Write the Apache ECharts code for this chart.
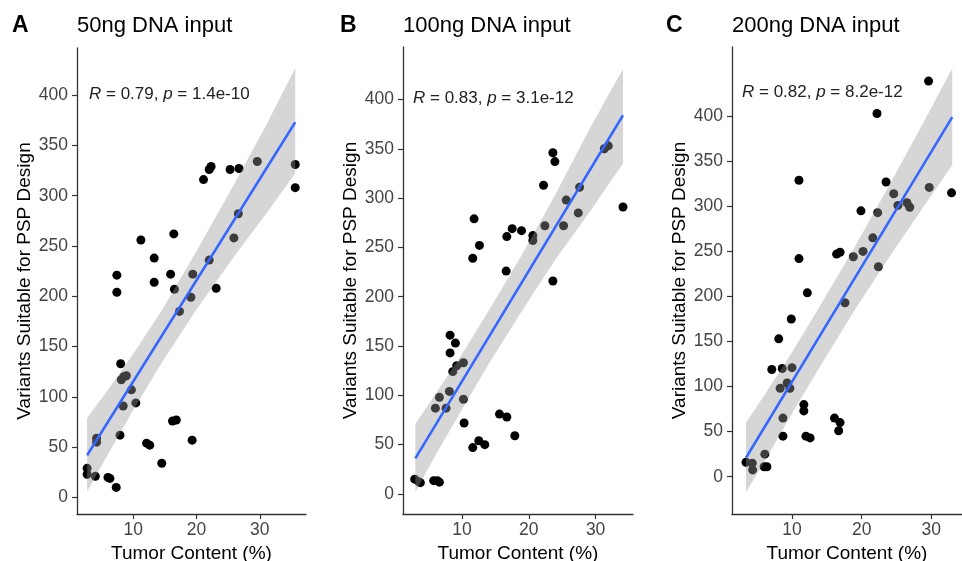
<!DOCTYPE html>
<html>
<head>
<meta charset="utf-8">
<script src="https://cdn.jsdelivr.net/npm/echarts@6/dist/echarts.min.js"></script>
<style>
  html, body { margin: 0; padding: 0; background: #fff; }
  #main { width: 962px; height: 561px; }
</style>
</head>
<body>
<div id="main"></div>
<script>
// A: 50ng DNA input  [tumor content %, variants]
const ptsA = [
  [35.6, 331], [35.6, 308], [29.6, 334], [25.3, 326], [26.7, 327], [21.1, 316],
  [22.0, 326], [22.3, 329], [26.6, 282], [25.9, 258], [22.0, 236], [16.4, 262],
  [11.2, 256], [13.3, 238], [7.4, 221], [19.4, 222], [15.9, 222], [7.4, 204],
  [13.3, 214], [16.5, 207], [23.1, 208], [19.1, 199], [17.3, 185], [8.0, 133],
  [8.1, 117], [8.5, 120], [8.9, 121], [9.7, 107], [10.4, 94], [8.4, 91],
  [7.9, 62], [4.2, 59], [4.2, 55], [2.7, 29], [2.7, 23], [4.0, 21],
  [6.0, 20], [6.3, 19], [7.3, 10], [12.1, 54], [12.6, 52], [14.5, 34],
  [16.2, 76], [16.8, 77], [19.3, 57]
];
const fitA = [[2.7, 42], [35.6, 373]];
// [x, lower, upper] of the grey confidence band
const bandA = [
  [2.7, 6, 79], [6, 43, 107], [10, 87, 143], [14.5, 134, 186],
  [20, 187, 245], [26, 240, 312], [31, 282, 370], [35.6, 322, 427]
];

// B: 100ng DNA input
const ptsB = [
  [31.3, 350], [31.9, 353], [34.1, 291], [23.6, 346], [23.9, 337], [22.2, 313],
  [27.6, 311], [25.6, 298], [27.4, 285], [22.4, 272], [25.2, 272], [20.6, 262],
  [20.6, 257], [17.5, 269], [18.9, 267], [16.7, 261], [11.8, 279], [12.6, 252],
  [11.6, 239], [16.6, 226], [23.6, 216], [8.2, 161], [9.0, 153], [8.2, 143],
  [9.2, 130], [10.2, 133], [8.6, 124], [8.1, 104], [6.6, 98], [6.0, 87],
  [7.6, 87], [10.2, 96], [10.3, 72], [11.6, 47], [12.5, 54], [13.4, 50],
  [15.6, 81], [16.7, 78], [17.9, 59], [2.9, 15], [3.5, 12.5], [3.75, 11.5],
  [5.75, 13.5], [6.3, 13.5], [6.6, 12]
];
const fitB = [[3.0, 36], [34.1, 384]];
const bandB = [
  [3.0, 2, 71], [6, 39, 101], [10, 86, 142], [14, 132, 186],
  [19, 186, 243], [24, 238, 304], [29, 285, 369], [34.1, 335, 431]
];

// C: 200ng DNA input
const ptsC = [
  [29.6, 439], [22.2, 403], [32.9, 315], [29.7, 321], [11.0, 329], [23.5, 327],
  [24.6, 314], [25.2, 301], [26.5, 304], [26.9, 299], [19.9, 295], [22.3, 293],
  [21.6, 265], [20.2, 250], [18.8, 244], [16.4, 247], [16.9, 249], [11.0, 242],
  [22.4, 233], [12.2, 204], [17.6, 193], [9.9, 175], [8.1, 153], [7.1, 119],
  [8.6, 120], [10.0, 121], [8.3, 98], [9.3, 104], [9.7, 98], [8.7, 65],
  [8.7, 45], [11.7, 80], [11.7, 73], [12.0, 45], [12.6, 43], [16.1, 65],
  [16.9, 60], [16.7, 51], [6.1, 25], [3.4, 16], [4.3, 15], [4.35, 7.5],
  [6.0, 11], [6.4, 11]
];
const fitC = [[3.4, 21], [33.0, 399]];
const bandC = [
  [3.4, -17, 60], [6, 16, 90], [10, 70, 138], [14, 122, 189],
  [19, 185, 255], [24, 244, 324], [29, 301, 395], [33.0, 346, 453]
];

const yTicks = [0, 50, 100, 150, 200, 250, 300, 350, 400];
const xTicks = [10, 20, 30];
const letters = ['A', 'B', 'C'];
const titles = ['50ng DNA input', '100ng DNA input', '200ng DNA input'];
const corR = ['0.79', '0.83', '0.82'];
const corP = ['1.4e-10', '3.1e-12', '8.2e-12'];

const pts = [ptsA, ptsB, ptsC];
const fits = [fitA, fitB, fitC];
const bands = [bandA, bandB, bandC];

const FONT = "'Liberation Sans', Arial, sans-serif";
const AXIS_COLOR = '#333';
const LABEL_COLOR = '#444';

// panel geometry (px) and axis ranges
const grids = [
  { left: 77, top: 48, width: 229, height: 466, outerBoundsMode: 'none' },
  { left: 403, top: 47, width: 230, height: 467, outerBoundsMode: 'none' },
  { left: 732, top: 47, width: 230, height: 467, outerBoundsMode: 'none' }
];
const xRange = [[1.1, 37.3], [1.15, 35.6], [1.39, 34.4]];
const yRange = [[-16.4, 446.8], [-20.3, 453.2], [-41.4, 476.8]];
const letterX = [12, 340, 666];
const annot = [[89, 86], [413, 90], [742, 84]];

function bandRender(band) {
  return function (params, api) {
    if (params.dataIndex !== 0) return;
    const top = band.map(d => api.coord([d[0], d[2]]));
    const bot = band.map(d => api.coord([d[0], d[1]])).reverse();
    return {
      type: 'polygon',
      shape: { points: top.concat(bot) },
      style: { fill: 'rgba(153,153,153,0.4)' }
    };
  };
}

const myChart = echarts.init(document.getElementById('main'));

const titleList = [];
const xAxes = [], yAxes = [], series = [];
for (let i = 0; i < 3; i++) {
  titleList.push({
    text: letters[i], left: letterX[i], top: 14, padding: 0,
    textStyle: { fontFamily: FONT, fontSize: 23, fontWeight: 'bold', color: '#000' }
  });
  titleList.push({
    text: titles[i], left: grids[i].left, top: 15, padding: 0,
    textStyle: { fontFamily: FONT, fontSize: 22, fontWeight: 'normal', color: '#000' }
  });
  titleList.push({
    text: '{i|R} = ' + corR[i] + ', {i|p} = ' + corP[i],
    left: annot[i][0], top: annot[i][1], padding: 0,
    textStyle: {
      fontFamily: FONT, fontSize: 17, fontWeight: 'normal', color: '#222',
      rich: { i: { fontFamily: FONT, fontSize: 17, fontStyle: 'italic', color: '#222' } }
    }
  });

  xAxes.push({
    type: 'value', gridIndex: i, min: xRange[i][0], max: xRange[i][1],
    name: 'Tumor Content (%)', nameLocation: 'middle', nameGap: 28,
    nameTextStyle: { fontFamily: FONT, fontSize: 19, color: '#000' },
    axisLine: { show: true, onZero: false, lineStyle: { color: AXIS_COLOR, width: 1.3 } },
    axisTick: { show: true, length: 5, customValues: xTicks, lineStyle: { color: AXIS_COLOR, width: 1.2 } },
    axisLabel: { customValues: xTicks, fontFamily: FONT, fontSize: 17.5, color: LABEL_COLOR, margin: 7 },
    splitLine: { show: false }
  });
  yAxes.push({
    type: 'value', gridIndex: i, min: yRange[i][0], max: yRange[i][1],
    name: 'Variants Suitable for PSP Design', nameLocation: 'middle', nameGap: 43,
    nameTextStyle: { fontFamily: FONT, fontSize: 19, color: '#000' },
    axisLine: { show: true, onZero: false, lineStyle: { color: AXIS_COLOR, width: 1.3 } },
    axisTick: { show: true, length: 5, customValues: yTicks, lineStyle: { color: AXIS_COLOR, width: 1.2 } },
    axisLabel: { customValues: yTicks, fontFamily: FONT, fontSize: 17.5, color: LABEL_COLOR, margin: 9 },
    splitLine: { show: false }
  });

  series.push({
    type: 'scatter', xAxisIndex: i, yAxisIndex: i, data: pts[i],
    symbolSize: 9, itemStyle: { color: '#000', opacity: 1 }, z: 2
  });
  series.push({
    type: 'custom', xAxisIndex: i, yAxisIndex: i, data: bands[i],
    encode: { x: 0, y: [1, 2] }, renderItem: bandRender(bands[i]), z: 3, silent: true
  });
  series.push({
    type: 'line', xAxisIndex: i, yAxisIndex: i, data: fits[i],
    showSymbol: false, lineStyle: { color: '#3366FF', width: 2.5 }, z: 4
  });
}

const option = {
  animation: false,
  backgroundColor: '#fff',
  title: titleList,
  grid: grids,
  xAxis: xAxes,
  yAxis: yAxes,
  series: series
};
myChart.setOption(option);
</script>
</body>
</html>
